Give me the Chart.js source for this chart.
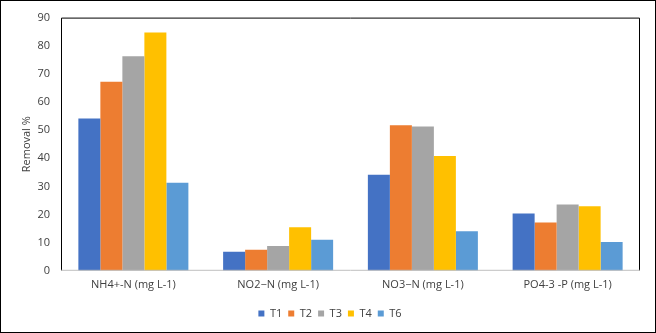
<!DOCTYPE html>
<html>
<head>
<meta charset="utf-8">
<script src="https://cdn.jsdelivr.net/npm/chart.js@4/dist/chart.umd.min.js"></script>
<style>
  body { margin: 0; background: #fff; }
  #wrap { width: 656px; height: 333px; position: relative; }
</style>
</head>
<body>
<div id="wrap"><canvas id="myChart" width="656" height="333"></canvas></div>
<script>
var categories = ["NH4+-N (mg L-1)", "NO2\u2212N (mg L-1)", "NO3\u2212N (mg L-1)", "PO4-3 -P (mg L-1)"];
var seriesNames = ["T1", "T2", "T3", "T4", "T6"];
var t1 = [54.1, 6.8, 34.1, 20.4];
var t2 = [67.2, 7.5, 51.7, 17.2];
var t3 = [76.3, 8.8, 51.3, 23.6];
var t4 = [84.7, 15.5, 40.8, 22.9];
var t6 = [31.3, 11.0, 14.1, 10.2];
var colors = ["#4472C4", "#ED7D31", "#A5A5A5", "#FFC000", "#5B9BD5"];

var fontFamily = "'Open Sans', 'Liberation Sans', sans-serif";

// frame around plot and around whole picture
var framePlugin = {
    id: "frame",
    afterDraw: function(chart) {
        var ctx = chart.ctx;
        var a = chart.chartArea;
        ctx.save();
        ctx.strokeStyle = "#000";
        ctx.lineWidth = 1;
        ctx.beginPath();
        ctx.moveTo(a.left + 0.5, a.bottom);
        ctx.lineTo(a.left + 0.5, a.top + 0.5);
        ctx.lineTo(a.right - 0.5, a.top + 0.5);
        ctx.lineTo(a.right - 0.5, a.bottom);
        ctx.stroke();
        ctx.strokeStyle = "#BFBFBF";
        ctx.beginPath();
        ctx.moveTo(a.left, a.bottom - 0.5);
        ctx.lineTo(a.right, a.bottom - 0.5);
        ctx.stroke();
        ctx.strokeStyle = "#000";
        ctx.strokeRect(0.5, 0.5, chart.width - 1, chart.height - 1);
        ctx.restore();
    }
};

function renderChart() {
    var data = [t1, t2, t3, t4, t6];
    var datasets = seriesNames.map(function(name, i) {
        return {
            label: name,
            data: data[i],
            backgroundColor: colors[i],
            borderWidth: 0
        };
    });
    var ctx = document.getElementById("myChart").getContext("2d");
    new Chart(ctx, {
        type: "bar",
        data: { labels: categories, datasets: datasets },
        options: {
            responsive: false,
            animation: false,
            layout: { padding: { top: 14, right: 16, bottom: 4, left: 20 } },
            datasets: { bar: { categoryPercentage: 0.76, barPercentage: 1 } },
            plugins: {
                tooltip: { enabled: false },
                legend: {
                    position: "bottom",
                    labels: {
                        boxWidth: 6,
                        boxHeight: 6,
                        padding: 6,
                        color: "#404040",
                        font: { family: fontFamily, size: 11 }
                    }
                }
            },
            scales: {
                x: {
                    grid: { display: false, drawTicks: false },
                    border: { display: false },
                    ticks: { color: "#404040", padding: 7, font: { family: fontFamily, size: 11 } },
                    afterFit: function(scale) { scale.height += 4; }
                },
                y: {
                    min: 0,
                    max: 90,
                    grid: { display: false, drawTicks: false },
                    border: { display: false },
                    ticks: { stepSize: 10, color: "#404040", padding: 11, font: { family: fontFamily, size: 11 } },
                    title: { display: true, text: "Removal %", color: "#404040", padding: 0, font: { family: fontFamily, size: 11 } },
                    afterFit: function(scale) { scale.width = 41; }
                }
            }
        },
        plugins: [framePlugin]
    });
}

document.addEventListener("DOMContentLoaded", renderChart);
</script>
</body>
</html>
